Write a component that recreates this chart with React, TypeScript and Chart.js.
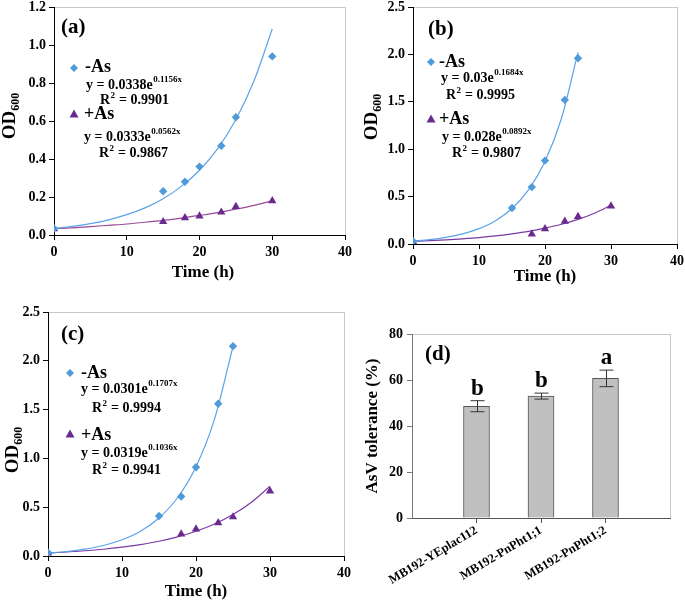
import React, { useEffect, useRef } from 'react';
import { Chart, registerables } from 'chart.js';
Chart.register(...registerables);

const FONT = '"Liberation Serif", "Times New Roman", serif';
Chart.defaults.font.family = FONT;
Chart.defaults.font.weight = 'bold';
Chart.defaults.color = '#000';

// ---------------- data ----------------
const seriesNames = ['-As', '+As'];
const fitTime30 = [0, 2.5, 5, 7.5, 10, 12.5, 15, 17.5, 20, 22.5, 25, 27.5, 30];
const fitTime25 = [0, 2.5, 5, 7.5, 10, 12.5, 15, 17.5, 20, 22.5, 25];

// panel (a)
const timeA = [0, 15, 18, 20, 23, 25, 30];
const odA_noAs = [0.035, 0.23, 0.28, 0.36, 0.47, 0.62, 0.94];
const odA_As = [0.033, 0.07, 0.09, 0.10, 0.12, 0.15, 0.18];
const fitA_noAs = [0.034, 0.045, 0.060, 0.080, 0.107, 0.143, 0.191, 0.256, 0.341, 0.455, 0.608, 0.812, 1.084];
const fitA_As = [0.033, 0.038, 0.044, 0.051, 0.058, 0.067, 0.077, 0.089, 0.103, 0.118, 0.136, 0.156, 0.180];
const coefA = ['0.0338', '0.0333'];
const rateA = ['0.1156', '0.0562'];
const r2A = ['0.9901', '0.9867'];

// panel (b)
const timeB_noAs = [0, 15, 18, 20, 23, 25];
const odB_noAs = [0.03, 0.38, 0.60, 0.88, 1.52, 1.96];
const timeB_As = [0, 18, 20, 23, 25, 30];
const odB_As = [0.025, 0.105, 0.16, 0.24, 0.29, 0.40];
const fitB_noAs = [0.030, 0.046, 0.070, 0.106, 0.162, 0.246, 0.375, 0.571, 0.871, 1.326, 2.021];
const fitB_As = [0.028, 0.035, 0.044, 0.055, 0.068, 0.085, 0.107, 0.133, 0.167, 0.208, 0.260, 0.325, 0.407];
const coefB = ['0.03', '0.028'];
const rateB = ['0.1684', '0.0892'];
const r2B = ['0.9995', '0.9807'];

// panel (c)
const timeC_noAs = [0, 15, 18, 20, 23, 25];
const odC_noAs = [0.035, 0.41, 0.61, 0.91, 1.56, 2.15];
const timeC_As = [0, 18, 20, 23, 25, 30];
const odC_As = [0.03, 0.225, 0.275, 0.34, 0.40, 0.665];
const fitC_noAs = [0.030, 0.046, 0.071, 0.108, 0.166, 0.254, 0.390, 0.597, 0.915, 1.402, 2.148];
const fitC_As = [0.032, 0.041, 0.054, 0.069, 0.090, 0.117, 0.151, 0.196, 0.253, 0.328, 0.425, 0.551, 0.714];
const coefC = ['0.0301', '0.0319'];
const rateC = ['0.1707', '0.1036'];
const r2C = ['0.9994', '0.9941'];

// panel (d)
const strains = ['MB192-YEplac112', 'MB192-PnPht1;1', 'MB192-PnPht1;2'];
const tolerance = [48.6, 53.0, 60.7];
const toleranceErr = [2.4, 1.3, 3.6];
const sigLetters = ['b', 'b', 'a'];

// ---------------- drawing helpers ----------------
const BLUE = '#4f9ad8';
const BLUE_LINE = '#5ba3e8';
const PURPLE = '#6a2b8f';

function txt(ctx: CanvasRenderingContext2D, s: string, x: number, y: number, size: number, align: CanvasTextAlign = 'left', base: CanvasTextBaseline = 'middle') {
  ctx.font = `bold ${size}px ${FONT}`;
  ctx.textAlign = align;
  ctx.textBaseline = base;
  ctx.fillStyle = '#000';
  ctx.fillText(s, x, y);
  return ctx.measureText(s).width;
}

function equation(ctx: CanvasRenderingContext2D, coef: string, rate: string, x: number, y: number) {
  const w = txt(ctx, `y = ${coef}e`, x, y, 14);
  txt(ctx, `${rate}x`, x + w + 0.5, y - 5, 9);
}

function rsq(ctx: CanvasRenderingContext2D, r: string, x: number, y: number) {
  const w = txt(ctx, 'R', x, y, 14);
  const w2 = txt(ctx, '2', x + w + 0.5, y - 4, 9);
  txt(ctx, ` = ${r}`, x + w + w2 + 1, y, 14);
}

function diamond(ctx: CanvasRenderingContext2D, x: number, y: number) {
  ctx.beginPath();
  ctx.moveTo(x, y - 4); ctx.lineTo(x + 4, y); ctx.lineTo(x, y + 4); ctx.lineTo(x - 4, y);
  ctx.closePath();
  ctx.fillStyle = BLUE; ctx.fill();
}

function triangle(ctx: CanvasRenderingContext2D, x: number, y: number) {
  ctx.beginPath();
  ctx.moveTo(x, y - 4.5); ctx.lineTo(x + 4.5, y + 3.5); ctx.lineTo(x - 4.5, y + 3.5);
  ctx.closePath();
  ctx.fillStyle = PURPLE; ctx.fill();
}

function yTitleOD(ctx: CanvasRenderingContext2D, cx: number, cy: number) {
  ctx.save();
  ctx.translate(cx, cy);
  ctx.rotate(-Math.PI / 2);
  ctx.font = `bold 19px ${FONT}`;
  const w1 = ctx.measureText('OD').width;
  ctx.font = `bold 12px ${FONT}`;
  const w2 = ctx.measureText('600').width;
  const start = -(w1 + w2) / 2;
  txt(ctx, 'OD', start, 6, 19, 'left', 'alphabetic');
  txt(ctx, '600', start + w1, 10, 12, 'left', 'alphabetic');
  ctx.restore();
}

function yTitleText(ctx: CanvasRenderingContext2D, s: string, cx: number, cy: number, size: number) {
  ctx.save();
  ctx.translate(cx, cy);
  ctx.rotate(-Math.PI / 2);
  txt(ctx, s, 0, 0, size, 'center', 'middle');
  ctx.restore();
}

function framePlugin(color: string) {
  return {
    id: 'frame',
    beforeDraw(chart: any) {
      const { ctx, chartArea: a } = chart;
      ctx.save();
      ctx.strokeStyle = color;
      ctx.lineWidth = 1;
      ctx.strokeRect(a.left + 0.5, a.top + 0.5, a.right - a.left, a.bottom - a.top);
      ctx.restore();
    },
  };
}

interface LegendLayout {
  label: string; labelX: number; labelY: number;
  m1: [number, number]; t1: [number, number]; e1: [number, number]; r1: [number, number];
  m2: [number, number]; t2: [number, number]; e2: [number, number]; r2: [number, number];
  yt: [number, number]; xt: [number, number];
}

interface LinePanel {
  canvas: HTMLCanvasElement; offX: number; offY: number;
  yW: number; xH: number; padTop: number; padRight: number;
  yMax: number; yStep: number;
  noAsX: number[]; noAsY: number[]; asX: number[]; asY: number[];
  fitNoAsX: number[]; fitNoAsY: number[]; fitAsX: number[]; fitAsY: number[];
  asLine: string;
  coef: string[]; rate: string[]; r2: string[];
  L: LegendLayout;
}

const pts = (xs: number[], ys: number[]) => xs.map((x, i) => ({ x, y: ys[i] }));

function makeLinePanel(p: LinePanel) {
  const annot = {
    id: 'annot',
    afterDraw(chart: any) {
      const ctx: CanvasRenderingContext2D = chart.ctx;
      const L = p.L;
      ctx.save();
      ctx.translate(-p.offX, -p.offY);
      txt(ctx, L.label, L.labelX, L.labelY, 21);
      diamond(ctx, L.m1[0], L.m1[1]);
      txt(ctx, seriesNames[0], L.t1[0], L.t1[1], 18);
      equation(ctx, p.coef[0], p.rate[0], L.e1[0], L.e1[1]);
      rsq(ctx, p.r2[0], L.r1[0], L.r1[1]);
      triangle(ctx, L.m2[0], L.m2[1]);
      txt(ctx, seriesNames[1], L.t2[0], L.t2[1], 18);
      equation(ctx, p.coef[1], p.rate[1], L.e2[0], L.e2[1]);
      rsq(ctx, p.r2[1], L.r2[0], L.r2[1]);
      yTitleOD(ctx, L.yt[0], L.yt[1]);
      txt(ctx, 'Time (h)', L.xt[0], L.xt[1], 17, 'center', 'middle');
      ctx.restore();
    },
  };
  return new Chart(p.canvas, {
    type: 'line',
    data: {
      datasets: [
        { data: pts(p.noAsX, p.noAsY), showLine: false, pointStyle: 'rectRot', pointRadius: 4.2, backgroundColor: BLUE, borderColor: BLUE, borderWidth: 0 },
        { data: pts(p.asX, p.asY), showLine: false, pointStyle: 'triangle', pointRadius: 4.8, backgroundColor: PURPLE, borderColor: PURPLE, borderWidth: 0 },
        { data: pts(p.fitNoAsX, p.fitNoAsY), showLine: true, pointRadius: 0, borderColor: BLUE_LINE, borderWidth: 1.2, cubicInterpolationMode: 'monotone' },
        { data: pts(p.fitAsX, p.fitAsY), showLine: true, pointRadius: 0, borderColor: p.asLine, borderWidth: 1.2, cubicInterpolationMode: 'monotone' },
      ],
    } as any,
    options: {
      animation: false,
      responsive: false,
      devicePixelRatio: 1,
      layout: { padding: { top: p.padTop, right: p.padRight, left: 0, bottom: 0 } },
      plugins: { legend: { display: false }, tooltip: { enabled: false } },
      scales: {
        x: {
          type: 'linear', min: 0, max: 40,
          ticks: { stepSize: 10, font: { size: 14, weight: 'bold' }, color: '#000', padding: 4 },
          grid: { drawOnChartArea: false, tickLength: 5, color: '#000' },
          border: { color: '#000', width: 1 },
          afterFit: (s: any) => { s.height = p.xH; },
        },
        y: {
          type: 'linear', min: 0, max: p.yMax,
          ticks: { stepSize: p.yStep, font: { size: 14, weight: 'bold' }, color: '#000', padding: 3, callback: (v: any) => Number(v).toFixed(1) },
          grid: { drawOnChartArea: false, tickLength: 5, color: '#000' },
          border: { color: '#000', width: 1 },
          afterFit: (s: any) => { s.width = p.yW; },
        },
      },
    } as any,
    plugins: [framePlugin('#c8c8c8'), annot],
  });
}

function makeBarPanel(canvas: HTMLCanvasElement, offX: number, offY: number) {
  const annot = {
    id: 'annotD',
    afterDatasetsDraw(chart: any) {
      const ctx: CanvasRenderingContext2D = chart.ctx;
      const xs = chart.scales.x, ys = chart.scales.y;
      ctx.save();
      ctx.strokeStyle = '#333';
      ctx.lineWidth = 1;
      tolerance.forEach((v, i) => {
        const x = Math.round(xs.getPixelForValue(i + 1)) + 0.5;
        const yt = ys.getPixelForValue(v + toleranceErr[i]);
        const yb = ys.getPixelForValue(v - toleranceErr[i]);
        ctx.beginPath();
        ctx.moveTo(x, yt); ctx.lineTo(x, yb);
        ctx.moveTo(x - 7, yt); ctx.lineTo(x + 7, yt);
        ctx.moveTo(x - 7, yb); ctx.lineTo(x + 7, yb);
        ctx.stroke();
        txt(ctx, sigLetters[i], x, yt - 6, 23, 'center', 'alphabetic');
      });
      ctx.restore();
    },
    afterDraw(chart: any) {
      const ctx: CanvasRenderingContext2D = chart.ctx;
      ctx.save();
      ctx.translate(-offX, -offY);
      txt(ctx, '(d)', 425, 355, 21);
      yTitleText(ctx, 'AsV tolerance (%)', 373, 426, 17);
      ctx.restore();
    },
  };
  return new Chart(canvas, {
    type: 'bar',
    data: {
      datasets: [{
        data: tolerance.map((v, i) => ({ x: i + 1, y: v })),
        backgroundColor: '#c0c0c0', borderColor: '#555', borderWidth: 1, barThickness: 26,
      }],
    } as any,
    options: {
      animation: false,
      responsive: false,
      devicePixelRatio: 1,
      layout: { padding: { top: 44, right: 20, left: 0, bottom: 0 } },
      plugins: { legend: { display: false }, tooltip: { enabled: false } },
      scales: {
        x: {
          type: 'linear', min: 0, max: 4, offset: false,
          afterBuildTicks: (s: any) => { s.ticks = strains.map((_, i) => ({ value: i + 1 })); },
          ticks: { autoSkip: false, minRotation: 31, maxRotation: 31, font: { size: 12.5, weight: 'bold' }, color: '#000', padding: 0, callback: (_v: any, i: number) => strains[i] },
          grid: { drawOnChartArea: false, offset: false, tickLength: 5, color: '#555' },
          border: { color: '#555', width: 1 },
          afterFit: (s: any) => { s.height = 84; },
        },
        y: {
          type: 'linear', min: 0, max: 80,
          ticks: { stepSize: 20, font: { size: 14, weight: 'bold' }, color: '#000', padding: 4 },
          grid: { drawOnChartArea: false, tickLength: 5, color: '#777' },
          border: { color: '#777', width: 1 },
          afterFit: (s: any) => { s.width = 67; },
        },
      },
    } as any,
    plugins: [framePlugin('#c8c8c8'), annot],
  });
}

export default function App() {
  const refA = useRef<HTMLCanvasElement>(null);
  const refB = useRef<HTMLCanvasElement>(null);
  const refC = useRef<HTMLCanvasElement>(null);
  const refD = useRef<HTMLCanvasElement>(null);

  useEffect(() => {
    const charts: Chart[] = [];
    charts.push(makeLinePanel({
      canvas: refA.current!, offX: 0, offY: -20, yW: 54, xH: 55, padTop: 27, padRight: 30,
      yMax: 1.2, yStep: 0.2,
      noAsX: timeA, noAsY: odA_noAs, asX: timeA, asY: odA_As,
      fitNoAsX: fitTime30, fitNoAsY: fitA_noAs, fitAsX: fitTime30, fitAsY: fitA_As,
      asLine: '#9a4a9a', coef: coefA, rate: rateA, r2: r2A,
      L: {
        label: '(a)', labelX: 61, labelY: 28,
        m1: [74, 68], t1: [85, 67], e1: [86, 85], r1: [100, 100],
        m2: [74, 114], t2: [84, 114], e2: [84, 137], r2: [99, 153],
        yt: [9, 116], xt: [203, 273],
      },
    }));
    charts.push(makeLinePanel({
      canvas: refB.current!, offX: 345, offY: -20, yW: 68, xH: 46, padTop: 27, padRight: 28,
      yMax: 2.5, yStep: 0.5,
      noAsX: timeB_noAs, noAsY: odB_noAs, asX: timeB_As, asY: odB_As,
      fitNoAsX: fitTime25, fitNoAsY: fitB_noAs, fitAsX: fitTime30, fitAsY: fitB_As,
      asLine: '#7a3aa6', coef: coefB, rate: rateB, r2: r2B,
      L: {
        label: '(b)', labelX: 428, labelY: 30,
        m1: [431, 62], t1: [439, 62], e1: [441, 78], r1: [446, 95],
        m2: [431, 119], t2: [439, 119], e2: [442, 137], r2: [452, 153],
        yt: [371, 117], xt: [545, 277],
      },
    }));
    charts.push(makeLinePanel({
      canvas: refC.current!, offX: 0, offY: 290, yW: 48, xH: 46, padTop: 22, padRight: 26,
      yMax: 2.5, yStep: 0.5,
      noAsX: timeC_noAs, noAsY: odC_noAs, asX: timeC_As, asY: odC_As,
      fitNoAsX: fitTime25, fitNoAsY: fitC_noAs, fitAsX: fitTime30, fitAsY: fitC_As,
      asLine: '#7a3aa6', coef: coefC, rate: rateC, r2: r2C,
      L: {
        label: '(c)', labelX: 61, labelY: 335,
        m1: [70, 373], t1: [81, 373], e1: [81, 389], r1: [92, 408],
        m2: [70, 434], t2: [81, 435], e2: [81, 453], r2: [92, 470],
        yt: [12, 450], xt: [196, 592],
      },
    }));
    charts.push(makeBarPanel(refD.current!, 345, 290));
    return () => charts.forEach((c) => c.destroy());
  }, []);

  const cs = (l: number, t: number, w: number, h: number): React.CSSProperties => ({ position: 'absolute', left: l, top: t, width: w, height: h });

  return (
    <div style={{ position: 'fixed', left: 0, top: 0, width: 685, height: 602, overflow: 'hidden', background: '#fff' }}>
      <canvas ref={refA} width={375} height={310} style={cs(0, -20, 375, 310)} />
      <canvas ref={refB} width={360} height={310} style={cs(345, -20, 360, 310)} />
      <canvas ref={refC} width={370} height={312} style={cs(0, 290, 370, 312)} />
      <canvas ref={refD} width={345} height={312} style={cs(345, 290, 345, 312)} />
    </div>
  );
}
